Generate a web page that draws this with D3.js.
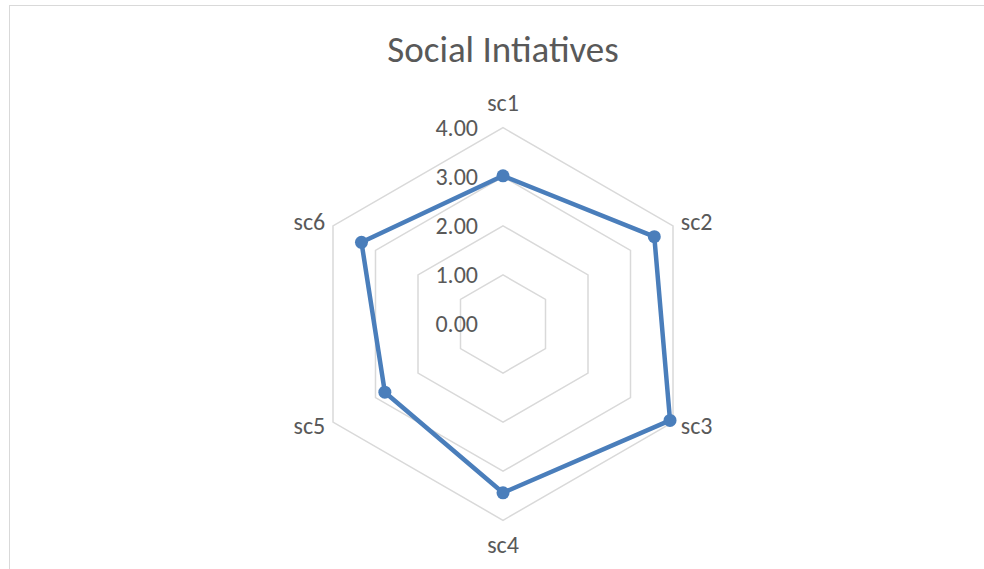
<!DOCTYPE html>
<html><head><meta charset="utf-8">
<script src="https://cdn.jsdelivr.net/npm/d3@7"></script>
<style>body{margin:0;background:#fff}svg{display:block}text{font-family:Calibri,Carlito,"Open Sans","Noto Sans",sans-serif;fill:#595959}</style>
</head><body><svg id="c" width="984" height="569"></svg>
<script>
const categories = ["sc1","sc2","sc3","sc4","sc5","sc6"];
const values = [3.02, 3.56, 3.93, 3.44, 2.78, 3.33];
const tickValues = [0,1,2,3,4];
const title = "Social Intiatives";

const svg = d3.select("#c");
svg.append("rect").attr("x",9.5).attr("y",5.5).attr("width",990).attr("height",600)
  .attr("fill","#fff").attr("stroke","#d9d9d9").attr("stroke-width",1);
svg.append("text").attr("x",503).attr("y",62).attr("text-anchor","middle")
  .style("font-size","37px").text(title);

const cx=503, cy=324;
const r = d3.scaleLinear().domain([0,4]).range([0,196.3]);
const n = categories.length;
const ang = i => i*2*Math.PI/n;
const pt = (i,v) => [cx + r(v)*Math.sin(ang(i)), cy - r(v)*Math.cos(ang(i))];

const g = svg.append("g");
tickValues.filter(t=>t>0).forEach(t=>{
  g.append("path").attr("d", d3.line()(d3.range(n).map(i=>pt(i,t))) + "Z")
   .attr("fill","none").attr("stroke","#d9d9d9").attr("stroke-width",1.5);
});
tickValues.forEach(t=>{
  g.append("text").attr("x",cx-25).attr("y",cy - r(t)).attr("dy","0.33em")
   .attr("text-anchor","end").style("font-size","24px").text(d3.format(".2f")(t));
});
categories.forEach((c,i)=>{
  const [x,y] = pt(i,4);
  const s = Math.sin(ang(i)), co = Math.cos(ang(i));
  let anchor = Math.abs(s)<0.01 ? "middle" : (s>0 ? "start":"end");
  let lx = x + s*9, ly = y - co*25;
  if (Math.abs(s)>0.01) ly = y + (co>0 ? -4 : 4);
  g.append("text").attr("x",lx).attr("y",ly).attr("dy","0.33em").attr("text-anchor",anchor)
   .style("font-size","24px").text(c);
});
const pts = values.map((v,i)=>pt(i,v));
g.append("path").attr("d", d3.line()(pts)+"Z").attr("fill","none")
  .attr("stroke","#4a7ebb").attr("stroke-width",4.5).attr("stroke-linejoin","round");
g.selectAll("circle.m").data(pts).join("circle").attr("cx",d=>d[0]).attr("cy",d=>d[1])
  .attr("r",6.5).attr("fill","#4a7ebb");
</script></body></html>
